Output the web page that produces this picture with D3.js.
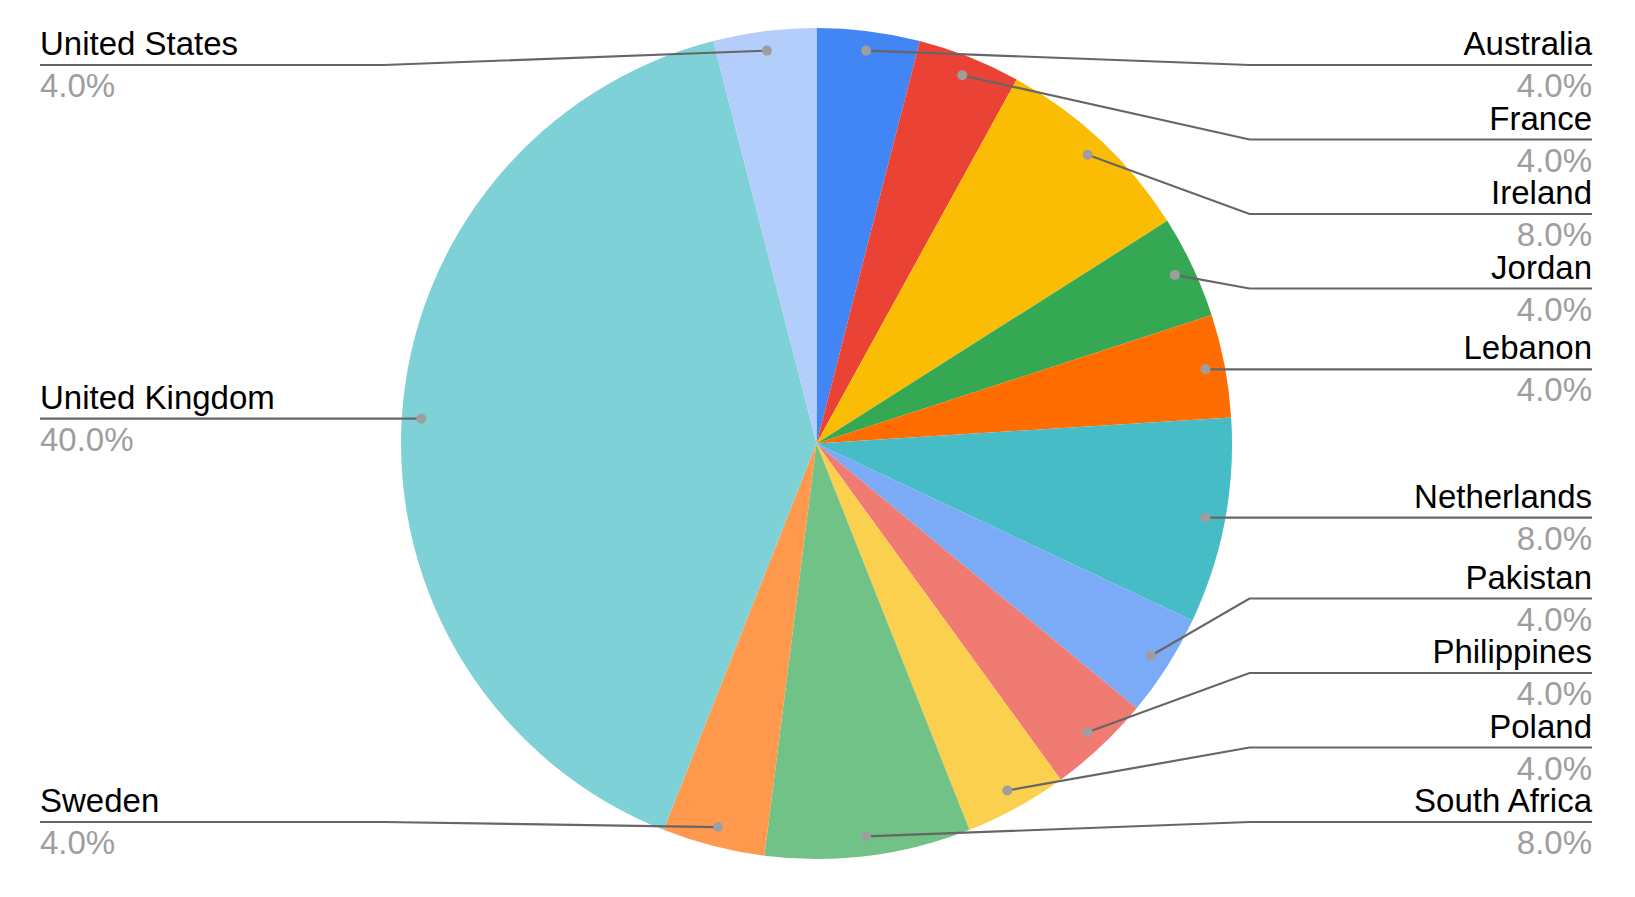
<!DOCTYPE html>
<html>
<head>
<meta charset="utf-8">
<script src="https://cdn.jsdelivr.net/npm/d3@7"></script>
<style>
  html, body { margin: 0; padding: 0; background: #fff; }
  svg { display: block; }
  text { font-family: "Liberation Sans", Arial, sans-serif; }
</style>
</head>
<body>
<svg id="chart" width="1635" height="897"></svg>
<script>
// ---- data ----
const categories = ["Australia", "France", "Ireland", "Jordan", "Lebanon", "Netherlands",
  "Pakistan", "Philippines", "Poland", "South Africa", "Sweden", "United Kingdom", "United States"];
const values = [4, 4, 8, 4, 4, 8, 4, 4, 4, 8, 4, 40, 4];
const colors = ["#4285f4", "#ea4335", "#fbbc04", "#34a853", "#ff6d01", "#46bdc6",
  "#7baaf7", "#f07b72", "#fcd04f", "#71c287", "#ff994d", "#7ed1d7", "#b3cefb"];

// ---- layout ----
const W = 1635, H = 897;
const cx = 816.5, cy = 443.5, R = 415.5;
const dotR = 396;
const elbowDx = 433;
const labelTop = 65, labelBottom = 822, gap = 74.5;
const leftX = 40, rightX = 1592;

const svg = d3.select("#chart");
const g = svg.append("g").attr("transform", `translate(${cx},${cy})`);

const total = d3.sum(values);
const color = d3.scaleOrdinal().domain(categories).range(colors);
const fmt = d3.format(".1%");

const pie = d3.pie().sort(null).value((d, i) => values[i]).startAngle(0).endAngle(2 * Math.PI);
const arcs = pie(categories);
const arc = d3.arc().innerRadius(0).outerRadius(R);

g.selectAll("path.slice").data(arcs).enter().append("path")
  .attr("class", "slice")
  .attr("d", arc)
  .attr("fill", d => color(d.data));

// label anchor points
const items = arcs.map((d, i) => {
  const a = (d.startAngle + d.endAngle) / 2;
  const x = cx + dotR * Math.sin(a);
  const y = cy - dotR * Math.cos(a);
  return { name: d.data, value: values[i], a, x, y, right: a < Math.PI, ly: y };
});

function layout(list) {
  let prev = -Infinity;
  list.forEach(it => {
    it.ly = Math.max(it.y, labelTop, prev + gap);
    prev = it.ly;
  });
  let next = Infinity;
  for (let i = list.length - 1; i >= 0; i--) {
    const it = list[i];
    it.ly = Math.min(it.ly, labelBottom, next - gap);
    next = it.ly;
  }
}
const rightItems = items.filter(d => d.right).sort((a, b) => a.y - b.y);
const leftItems = items.filter(d => !d.right).sort((a, b) => a.y - b.y);
layout(rightItems);
layout(leftItems);

const lg = svg.append("g");
items.forEach(it => {
  const ex = it.right ? cx + elbowDx : cx - elbowDx;
  const tx = it.right ? rightX : leftX;
  lg.append("path")
    .attr("d", d3.line()([[it.x, it.y], [ex, it.ly], [tx, it.ly]]))
    .attr("fill", "none")
    .attr("stroke", "#666")
    .attr("stroke-width", 2.2);
  lg.append("circle")
    .attr("cx", it.x).attr("cy", it.y).attr("r", 5)
    .attr("fill", "#9e9e9e");
  lg.append("text")
    .attr("x", tx).attr("y", it.ly - 10)
    .attr("text-anchor", it.right ? "end" : "start")
    .attr("font-size", 33)
    .attr("fill", "#000")
    .text(it.name);
  lg.append("text")
    .attr("x", tx).attr("y", it.ly + 32)
    .attr("text-anchor", it.right ? "end" : "start")
    .attr("font-size", 33)
    .attr("fill", "#9e9e9e")
    .text(fmt(it.value / total));
});
</script>
</body>
</html>
